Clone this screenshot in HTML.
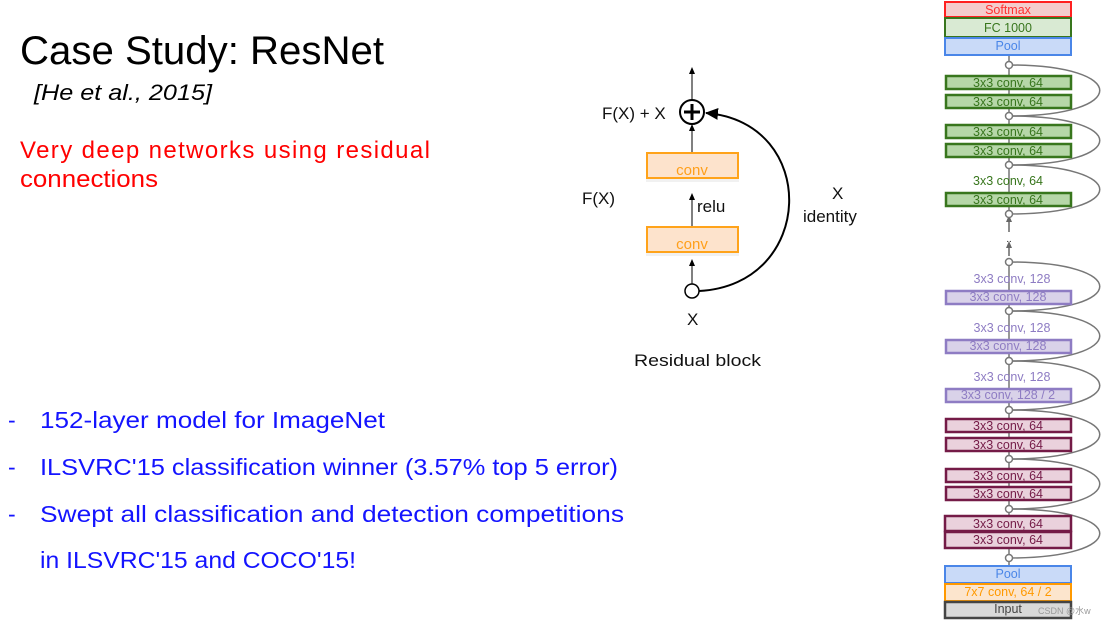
<!DOCTYPE html>
<html><head><meta charset="utf-8"><style>
html,body{margin:0;padding:0;background:#fff;width:1107px;height:627px;overflow:hidden}
svg{display:block}
text{font-family:"Liberation Sans","Noto Sans CJK SC",sans-serif}
</style></head><body>
<svg width="1107" height="627" viewBox="0 0 1107 627" xmlns="http://www.w3.org/2000/svg">
<defs>
<marker id="ah" markerWidth="8" markerHeight="8" refX="4" refY="4" orient="auto" markerUnits="userSpaceOnUse"><path d="M0,1 L7,4 L0,7 z" fill="#000"/></marker>
<marker id="ah2" markerWidth="14" markerHeight="12" refX="12" refY="6" orient="auto" markerUnits="userSpaceOnUse"><path d="M0,0 L13,6 L0,12 z" fill="#000"/></marker>
<marker id="ag" markerWidth="8" markerHeight="8" refX="4" refY="4" orient="auto" markerUnits="userSpaceOnUse"><path d="M0,1 L7,4 L0,7 z" fill="#666"/></marker>
</defs>

<text x="20" y="64" font-size="40" textLength="364" lengthAdjust="spacingAndGlyphs">Case Study: ResNet</text>
<text x="34" y="100" font-size="22" font-style="italic" textLength="178" lengthAdjust="spacingAndGlyphs">[He et al., 2015]</text>
<text x="20" y="158" font-size="24" fill="#ff0000" textLength="410" lengthAdjust="spacing">Very deep networks using residual</text>
<text x="20" y="187" font-size="24" fill="#ff0000" textLength="138" lengthAdjust="spacingAndGlyphs">connections</text>

<g fill="#1414ff" font-size="23">
<text x="8" y="428">-</text><text x="40" y="428" textLength="345" lengthAdjust="spacingAndGlyphs">152-layer model for ImageNet</text>
<text x="8" y="475">-</text><text x="40" y="475" textLength="578" lengthAdjust="spacingAndGlyphs">ILSVRC'15 classification winner  (3.57% top 5 error)</text>
<text x="8" y="522">-</text><text x="40" y="522" textLength="584" lengthAdjust="spacingAndGlyphs">Swept all classification and  detection competitions</text>
<text x="40" y="568" textLength="316" lengthAdjust="spacingAndGlyphs">in  ILSVRC'15 and COCO'15!</text>
</g>

<g stroke="#000" fill="none">
<line x1="692" y1="100" x2="692" y2="70" stroke-width="1" marker-end="url(#ah)"/>
<line x1="692" y1="152" x2="692" y2="127" stroke-width="1" marker-end="url(#ah)"/>
<line x1="692" y1="226" x2="692" y2="196" stroke-width="1" marker-end="url(#ah)"/>
<line x1="692" y1="284" x2="692" y2="262" stroke-width="1" marker-end="url(#ah)"/>
<path d="M699,291 C816,285 820,122 706,113" stroke-width="2" marker-end="url(#ah2)"/>
<circle cx="692" cy="112" r="12" stroke-width="2" fill="#fff"/>
<circle cx="692" cy="291" r="7" stroke-width="1.5" fill="#fff"/>
</g>
<path d="M692,104 V120 M684,112 H700" stroke="#000" stroke-width="3"/>
<rect x="646" y="178" width="93" height="4" fill="#f1f1f1"/>
<rect x="646" y="252" width="93" height="4" fill="#f1f1f1"/>
<rect x="647" y="153" width="91" height="25" fill="#fde3cc" stroke="#ffa31a" stroke-width="2"/>
<rect x="647" y="227" width="91" height="25" fill="#fde3cc" stroke="#ffa31a" stroke-width="2"/>
<text x="692" y="175" font-size="15" fill="#ff9f1a" text-anchor="middle">conv</text>
<text x="692" y="249" font-size="15" fill="#ff9f1a" text-anchor="middle">conv</text>
<g font-size="17" fill="#111">
<text x="602" y="119">F(X) + X</text>
<text x="582" y="204">F(X)</text>
<text x="697" y="212">relu</text>
<text x="832" y="199">X</text>
<text x="803" y="222">identity</text>
<text x="687" y="325">X</text>
<text x="634" y="366" textLength="127" lengthAdjust="spacingAndGlyphs">Residual block</text>
</g>

<line x1="1009" y1="55" x2="1009" y2="566" stroke="#777" stroke-width="1.5"/>
<rect x="1004" y="220" width="10" height="40" fill="#fff"/>
<line x1="1009" y1="232" x2="1009" y2="218" stroke="#666" stroke-width="1.5" marker-end="url(#ag)"/>
<line x1="1009" y1="256" x2="1009" y2="244" stroke="#666" stroke-width="1.5" marker-end="url(#ag)"/>
<text x="1009" y="242" font-size="10" text-anchor="middle" fill="#333">..</text>

<g stroke="#777" stroke-width="1.5" fill="none">
<path d="M1009,65 C1130,65 1130,116 1009,116"/>
<path d="M1009,116 C1130,116 1130,165 1009,165"/>
<path d="M1009,165 C1130,165 1130,214 1009,214"/>
<path d="M1009,262 C1130,262 1130,311 1009,311"/>
<path d="M1009,311 C1130,311 1130,361 1009,361"/>
<path d="M1009,361 C1130,361 1130,410 1009,410"/>
<path d="M1009,410 C1130,410 1130,459 1009,459"/>
<path d="M1009,459 C1130,459 1130,509 1009,509"/>
<path d="M1009,509 C1130,509 1130,558 1009,558"/>
</g>

<g font-size="12.5" text-anchor="middle">
<rect x="945" y="2" width="126" height="15" fill="#f4cccc" stroke="#ff2020" stroke-width="2"/>
<text x="1008" y="14" fill="#ff3030">Softmax</text>
<rect x="945" y="18" width="126" height="19" fill="#d9ead3" stroke="#38761d" stroke-width="2"/>
<text x="1008" y="32" fill="#38761d">FC 1000</text>
<rect x="945" y="38" width="126" height="17" fill="#c9daf8" stroke="#4a86e8" stroke-width="2"/>
<text x="1008" y="50" fill="#4a86e8">Pool</text>

<g fill="#b6d7a8" stroke="#38761d" stroke-width="2.5">
<rect x="946" y="76" width="125" height="13"/><rect x="946" y="95" width="125" height="13"/>
<rect x="946" y="125" width="125" height="13"/><rect x="946" y="144" width="125" height="13"/>
<rect x="946" y="193" width="125" height="13"/>
</g>
<g fill="#38761d">
<text x="1008" y="87">3x3 conv, 64</text><text x="1008" y="106">3x3 conv, 64</text>
<text x="1008" y="136">3x3 conv, 64</text><text x="1008" y="155">3x3 conv, 64</text>
<text x="1008" y="185">3x3 conv, 64</text><text x="1008" y="204">3x3 conv, 64</text>
</g>

<g fill="#d9d2e9" stroke="#8e7cc3" stroke-width="2.5">
<rect x="946" y="291" width="125" height="13"/>
<rect x="946" y="340" width="125" height="13"/>
<rect x="946" y="389" width="125" height="13"/>
</g>
<g fill="#8e7cc3">
<text x="1012" y="283">3x3 conv, 128</text><text x="1008" y="301">3x3 conv, 128</text>
<text x="1012" y="332">3x3 conv, 128</text><text x="1008" y="350">3x3 conv, 128</text>
<text x="1012" y="381">3x3 conv, 128</text><text x="1008" y="399">3x3 conv, 128 / 2</text>
</g>

<g fill="#ead1dc" stroke="#741b47" stroke-width="2.5">
<rect x="946" y="419" width="125" height="13"/><rect x="946" y="438" width="125" height="13"/>
<rect x="946" y="469" width="125" height="13"/><rect x="946" y="487" width="125" height="13"/>
<rect x="945" y="516" width="126" height="15"/><rect x="945" y="532" width="126" height="16"/>
</g>
<g fill="#741b47">
<text x="1008" y="430">3x3 conv, 64</text><text x="1008" y="449">3x3 conv, 64</text>
<text x="1008" y="480">3x3 conv, 64</text><text x="1008" y="498">3x3 conv, 64</text>
<text x="1008" y="528">3x3 conv, 64</text><text x="1008" y="544">3x3 conv, 64</text>
</g>

<rect x="945" y="566" width="126" height="17" fill="#c9daf8" stroke="#4a86e8" stroke-width="2"/>
<text x="1008" y="578" fill="#4a86e8">Pool</text>
<rect x="945" y="584" width="126" height="17" fill="#fce5cd" stroke="#ff9900" stroke-width="2"/>
<text x="1008" y="596" fill="#ff9900">7x7 conv, 64 / 2</text>
<rect x="945" y="602" width="126" height="16" fill="#d9d9d9" stroke="#444" stroke-width="2.5"/>
<text x="1008" y="613" fill="#444">Input</text>
</g>

<g fill="#fff" stroke="#777" stroke-width="1.5">
<circle cx="1009" cy="65" r="3.5"/><circle cx="1009" cy="116" r="3.5"/><circle cx="1009" cy="165" r="3.5"/>
<circle cx="1009" cy="214" r="3.5"/><circle cx="1009" cy="262" r="3.5"/><circle cx="1009" cy="311" r="3.5"/>
<circle cx="1009" cy="361" r="3.5"/><circle cx="1009" cy="410" r="3.5"/><circle cx="1009" cy="459" r="3.5"/>
<circle cx="1009" cy="509" r="3.5"/><circle cx="1009" cy="558" r="3.5"/>
</g>
<text x="1038" y="614" font-size="9" fill="#999">CSDN @水w</text>
</svg>
</body></html>
